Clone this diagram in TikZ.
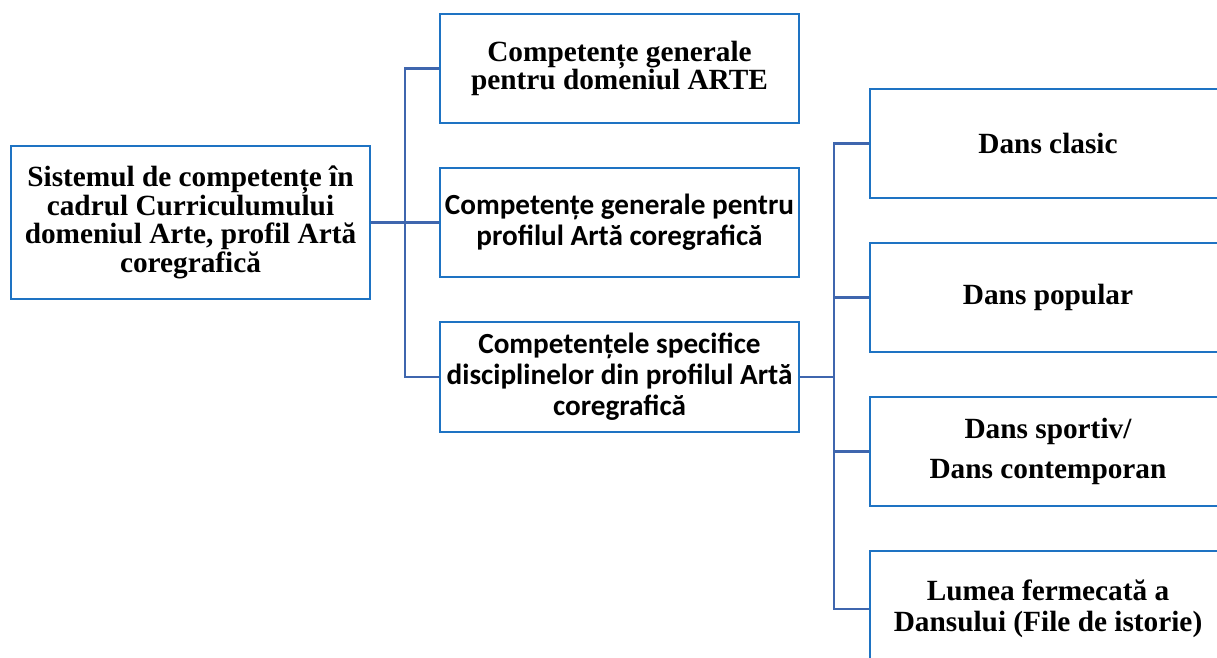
\documentclass[tikz,border=0pt]{standalone}
\usepackage{fontspec}
\setmainfont{Liberation Serif}
\newfontfamily\calib{Carlito}
\definecolor{boxblue}{RGB}{30,115,195}
\definecolor{linkblue}{RGB}{63,102,174}
\begin{document}
\begin{tikzpicture}[x=1pt,y=-1pt,
  box/.style={draw=boxblue,line width=2.4pt,fill=white,inner sep=0pt,align=center,minimum width=#1},
  box/.default=359pt,
  tnr/.style={font=\bfseries\fontsize{29.3}{28.5}\selectfont},
  cal/.style={font=\calib\bfseries\fontsize{29.2}{31}\selectfont},
  link/.style={draw=linkblue,line width=2.2pt}]
\clip (0,0) rectangle (1217,657);
\fill[white] (0,0) rectangle (1217,657);
% left
\node[box,tnr,minimum height=153pt] (root) at (190.5,222.5) {Sistemul de competențe în\\cadrul Curriculumului\\domeniul Arte, profil Artă\\coregrafică};
% middle
\node[box,tnr,minimum height=109pt] (m1) at (619.5,68.5) {Competențe generale\\pentru domeniul ARTE};
\node[box,cal,minimum height=109pt] (m2) at (619.5,222.5) {Competențe generale pentru\\profilul Artă coregrafică};
\node[box,cal,minimum height=110pt] (m3) at (619.5,377) {Competențele specifice\\disciplinelor din profilul Artă\\coregrafică};
% right
\node[box=356pt,tnr,minimum height=109pt] (r1) at (1048,143.5) {Dans clasic};
\node[box=356pt,tnr,minimum height=109pt] (r2) at (1048,297.5) {Dans popular};
\node[box=356pt,font=\bfseries\fontsize{29.3}{40}\selectfont,minimum height=109pt] (r3) at (1048,451.5) {Dans sportiv/\\Dans contemporan};
\node[box=356pt,font=\bfseries\fontsize{29.3}{31}\selectfont,minimum height=116pt] (r4) at (1048,609) {Lumea fermecată a\\Dansului (File de istorie)};
% connectors
\coordinate (t1) at (405,222.5);
\coordinate (t2) at (834,377);
\draw[link] (root.east) -- (m2.west);
\draw[link] (m1.west) -| (t1) |- (m3.west);
\draw[link] (m3.east) -- (t2);
\draw[link] (r1.west) -| (t2) |- (r4.west);
\draw[link] (t2|-r2.west) -- (r2.west);
\draw[link] (t2|-r3.west) -- (r3.west);
\end{tikzpicture}
\end{document}
